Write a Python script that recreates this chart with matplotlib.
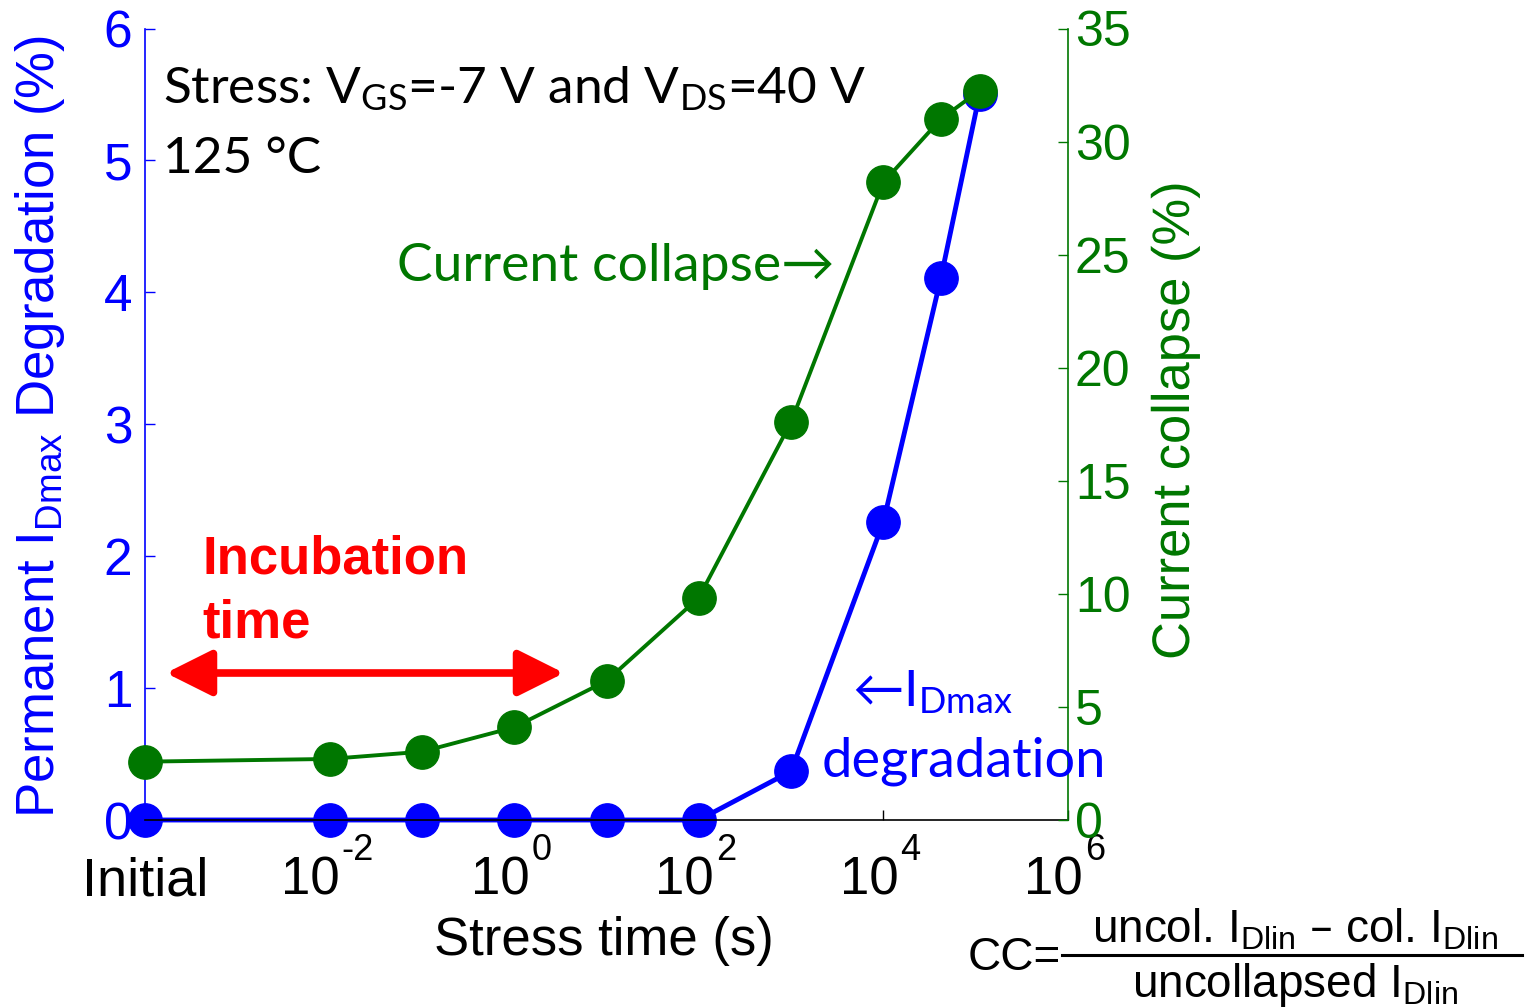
import matplotlib
matplotlib.use("Agg")
import matplotlib.pyplot as plt
from matplotlib.lines import Line2D
from matplotlib.patches import FancyArrowPatch, PathPatch
from matplotlib.textpath import TextPath
from matplotlib.font_manager import FontProperties
from matplotlib.transforms import Affine2D, blended_transform_factory

# stress time (s); the "Initial" point is drawn at 1e-4 on the log axis
stress_time = [1e-4, 1e-2, 1e-1, 1e0, 1e1, 1e2, 1e3, 1e4, 4.2e4, 1.1e5]
idmax_degradation = [0, 0, 0, 0, 0, 0, 0.37, 2.26, 4.11, 5.5]
current_collapse = [2.58, 2.70, 3.02, 4.10, 6.15, 9.83, 17.6, 28.2, 31.0, 32.25]

x_ticks = [1e-4, 1e-2, 1e0, 1e2, 1e4, 1e6]
x_exponents = [None, "-2", "0", "2", "4", "6"]
left_ticks = [0, 1, 2, 3, 4, 5, 6]
right_ticks = [0, 5, 10, 15, 20, 25, 30, 35]

BLUE = "#0000ff"
GREEN = "#007700"
RED = "#ff0000"
ARIAL = "Liberation Sans"
CALIBRI = ["Lato", "DejaVu Sans"]

W, H = 1535, 1007
fig = plt.figure(figsize=(W / 100, H / 100), dpi=100)


def px(x, y):
    return x / W, 1 - y / H


ax = fig.add_axes([145 / W, 1 - 820 / H, (1068 - 145) / W, (820 - 28.5) / H])
ax2 = ax.twinx()

ax.plot(stress_time, idmax_degradation, color=BLUE, lw=3.5, marker="o", ms=24,
        clip_on=False, zorder=2)
ax2.plot(stress_time, current_collapse, color=GREEN, lw=2.8, marker="o", ms=24,
         clip_on=False, zorder=3)

ax.set_xscale("log")
ax.set_xlim(1e-4, 1e6)
ax.set_ylim(0, 6)
ax2.set_ylim(0, 35)
ax.xaxis.set_minor_locator(matplotlib.ticker.NullLocator())

# x tick labels: "10" with a large raised exponent, drawn beside each tick
ax.set_xticks(x_ticks)
ax.set_xticklabels(["Initial"] + [""] * (len(x_ticks) - 1),
                   fontfamily=ARIAL, fontsize=39, va="baseline")
xtrans = blended_transform_factory(ax.transData, ax.transAxes)
for xv, ex in zip(x_ticks, x_exponents):
    if ex is None:
        continue
    shift = 10 if len(ex) > 1 else 15
    ax.annotate("10", (xv, 0), xycoords=xtrans, xytext=(shift / 1.389, -75 / 1.389),
                textcoords="offset points", ha="right", va="baseline",
                fontfamily=ARIAL, fontsize=38, annotation_clip=False)
    ax.annotate(ex, (xv, 0), xycoords=xtrans, xytext=((shift + 2) / 1.389, -40 / 1.389),
                textcoords="offset points", ha="left", va="baseline",
                fontfamily=ARIAL, fontsize=26, annotation_clip=False)

ax.set_yticks(left_ticks)
ax.set_yticklabels([str(t) for t in left_ticks], fontfamily=ARIAL, fontsize=37, color=BLUE)
ax2.set_yticks(right_ticks)
ax2.set_yticklabels([str(t) for t in right_ticks], fontfamily=ARIAL, fontsize=36, color=GREEN)

ax.tick_params(axis="x", direction="in", length=7, width=1, pad=54, colors="black")
ax.tick_params(axis="y", direction="in", length=7, width=1, pad=9, colors=BLUE)
ax2.tick_params(axis="y", direction="in", length=7, width=1, pad=5, colors=GREEN)

for a in (ax, ax2):
    a.spines["top"].set_visible(False)
ax.spines["right"].set_visible(False)
ax2.spines["left"].set_visible(False)
ax2.spines["bottom"].set_visible(False)
ax.spines["left"].set_color(BLUE)
ax2.spines["right"].set_color(GREEN)
ax.spines["bottom"].set_color("black")
for s in ("left", "bottom"):
    ax.spines[s].set_linewidth(1.2)
ax2.spines["right"].set_linewidth(1.2)

fig.text(*px(604, 955), "Stress time (s)", fontfamily=ARIAL, fontsize=38,
         ha="center", va="baseline")

fig.text(*px(40, 426), r"Permanent I$\mathregular{_{Dmax}}$ Degradation (%)",
         fontfamily=ARIAL, fontsize=38, color=BLUE, rotation=90,
         ha="center", va="center")

# right axis title, slightly condensed
title_path = TextPath((0, 0), "Current collapse (%)", size=38,
                      prop=FontProperties(family=ARIAL))
title_tf = (Affine2D().scale(0.995 / 72, 1 / 72).rotate_deg(90)
            .translate(1189 / 100, (H - 660) / 100) + fig.dpi_scale_trans)
fig.patches.append(PathPatch(title_path, transform=title_tf, facecolor=GREEN,
                             edgecolor="none", lw=0))

# annotations inside the plot
fig.text(*px(163, 103), r"Stress: V$\mathregular{_{GS}}$=-7 V and V$\mathregular{_{DS}}$=40 V",
         fontfamily=CALIBRI, fontsize=37, ha="left", va="baseline")
fig.text(*px(163, 173), "125 °C", fontfamily=CALIBRI, fontsize=37, ha="left", va="baseline")
fig.text(*px(397, 281), "Current collapse\u2192", fontfamily=CALIBRI, fontsize=38.5,
         color=GREEN, ha="left", va="baseline")
fig.text(*px(852, 706), "\u2190I$\\mathregular{_{Dmax}}$", fontfamily=CALIBRI,
         fontsize=37, color=BLUE, ha="left", va="baseline")
fig.text(*px(822, 776), "degradation", fontfamily=CALIBRI, fontsize=39,
         color=BLUE, ha="left", va="baseline")

fig.text(*px(202, 574), "Incubation", fontfamily=ARIAL, fontweight="bold",
         fontsize=38, color=RED, ha="left", va="baseline")
fig.text(*px(202, 638), "time", fontfamily=ARIAL, fontweight="bold",
         fontsize=38, color=RED, ha="left", va="baseline")
fig.patches.append(FancyArrowPatch(
    px(166, 673), px(564, 673), transform=fig.transFigure,
    arrowstyle="<|-|>,head_length=1.4,head_width=0.7", mutation_scale=20,
    shrinkA=0, shrinkB=0, lw=5.5, color=RED))

# current collapse definition
fig.text(*px(968, 970), "CC=", fontfamily=ARIAL, fontsize=33, ha="left", va="baseline")
fig.lines.append(Line2D([1062 / W, 1522 / W], [1 - 955 / H, 1 - 955 / H],
                        transform=fig.transFigure, color="black", lw=2.2))
fig.text(*px(1295, 943), r"uncol. I$\mathregular{_{Dlin}}$ – col. I$\mathregular{_{Dlin}}$",
         fontfamily=ARIAL, fontsize=33, ha="center", va="baseline")
fig.text(*px(1295, 997), r"uncollapsed I$\mathregular{_{Dlin}}$",
         fontfamily=ARIAL, fontsize=33, ha="center", va="baseline")

fig.savefig("out.png", dpi=100)
